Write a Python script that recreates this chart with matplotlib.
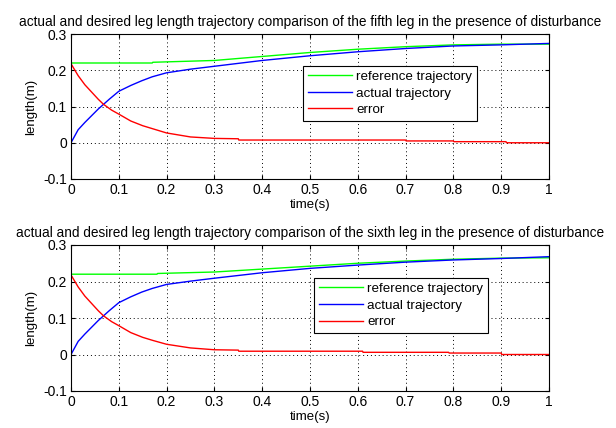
import matplotlib.pyplot as plt

plt.rcParams['font.family'] = ['Liberation Sans', 'DejaVu Sans']

# fifth leg: reference, actual and error trajectories over time (s)
t5_ref = [0, 0.17, 0.171, 0.3, 0.4, 0.5, 0.6, 0.7, 0.8, 0.9, 1.0]
ref5 = [0.22, 0.22, 0.222, 0.227, 0.238, 0.249, 0.258, 0.265, 0.270, 0.272, 0.272]
t5_act = [0, 0.015, 0.029, 0.057, 0.08, 0.1, 0.125, 0.148, 0.17, 0.2, 0.25,
          0.3, 0.4, 0.5, 0.6, 0.7, 0.8, 0.9, 1.0]
act5 = [0.0, 0.036, 0.056, 0.093, 0.120, 0.142, 0.158, 0.171, 0.182, 0.193,
        0.203, 0.211, 0.227, 0.240, 0.251, 0.260, 0.267, 0.270, 0.274]
t5_err = [0, 0.015, 0.029, 0.057, 0.068, 0.085, 0.1, 0.125, 0.15, 0.17, 0.2,
          0.25, 0.3, 0.35, 0.351, 0.7, 0.701, 0.8, 0.801, 0.91, 0.911, 1.0]
err5 = [0.218, 0.185, 0.160, 0.120, 0.106, 0.090, 0.079, 0.060, 0.047, 0.039,
        0.027, 0.016, 0.012, 0.011, 0.0075, 0.0075, 0.005, 0.005, 0.003, 0.003,
        0.0, 0.0]

# sixth leg
t6_ref = [0, 0.18, 0.181, 0.3, 0.4, 0.5, 0.6, 0.7, 0.8, 0.9, 1.0]
ref6 = [0.22, 0.22, 0.222, 0.226, 0.234, 0.242, 0.250, 0.256, 0.261, 0.264, 0.265]
t6_act = [0, 0.015, 0.029, 0.057, 0.08, 0.1, 0.125, 0.148, 0.17, 0.2, 0.25,
          0.3, 0.4, 0.5, 0.6, 0.7, 0.8, 0.9, 1.0]
act6 = [0.0, 0.036, 0.056, 0.093, 0.120, 0.142, 0.158, 0.171, 0.181, 0.192,
        0.201, 0.209, 0.224, 0.236, 0.245, 0.253, 0.259, 0.263, 0.268]
t6_err = [0, 0.015, 0.029, 0.057, 0.068, 0.085, 0.1, 0.125, 0.15, 0.17, 0.2,
          0.25, 0.3, 0.35, 0.351, 0.61, 0.611, 0.79, 0.791, 0.9, 0.901, 1.0]
err6 = [0.218, 0.185, 0.160, 0.120, 0.106, 0.090, 0.079, 0.060, 0.047, 0.039,
        0.028, 0.018, 0.013, 0.012, 0.009, 0.009, 0.006, 0.006, 0.004, 0.004,
        0.0, 0.0]

titles = ['actual and desired leg length trajectory comparison of the fifth leg in the presence of disturbance',
          'actual and desired leg length trajectory comparison of the sixth leg in the presence of disturbance']
xticks = [0, 0.1, 0.2, 0.3, 0.4, 0.5, 0.6, 0.7, 0.8, 0.9, 1]
xticklabels = ['0', '0.1', '0.2', '0.3', '0.4', '0.5', '0.6', '0.7', '0.8', '0.9', '1']
yticks = [-0.1, 0, 0.1, 0.2, 0.3]
yticklabels = ['-0.1', '0', '0.1', '0.2', '0.3']

W, H = 616, 428
fig = plt.figure(figsize=(W / 100, H / 100), dpi=100)
ax1 = fig.add_axes([71 / W, 1 - 179 / H, 478 / W, 145 / H])
ax2 = fig.add_axes([71 / W, 1 - 391 / H, 478 / W, 146 / H])

panels = [
    (ax1, t5_ref, ref5, t5_act, act5, t5_err, err5, titles[0], (0.486, 0.78)),
    (ax2, t6_ref, ref6, t6_act, act6, t6_err, err6, titles[1], (0.509, 0.774)),
]

for ax, tr, r, ta, a, te, e, title, legpos in panels:
    ax.plot(tr, r, color='#00ff00', lw=1, label='reference trajectory')
    ax.plot(ta, a, color='#0000ff', lw=1, label='actual trajectory')
    ax.plot(te, e, color='#ff0000', lw=1, label='error')
    ax.set_xlim(0, 1)
    ax.set_ylim(-0.1, 0.3)
    ax.set_xticks(xticks)
    ax.set_xticklabels(xticklabels)
    ax.set_yticks(yticks)
    ax.set_yticklabels(yticklabels)
    ax.tick_params(direction='in', labelsize=10, length=3, top=True, right=True, pad=3)
    ax.grid(True, color='black', linestyle=(0, (1, 3)), linewidth=0.7)
    for s in ax.spines.values():
        s.set_linewidth(0.8)
    ax.set_title(title, fontsize=9.8, pad=6)
    ax.set_xlabel('time(s)', fontsize=9.5, labelpad=1)
    ax.set_ylabel('length(m)', fontsize=9.5, labelpad=4)
    leg = ax.legend(loc='upper left', bbox_to_anchor=legpos, fancybox=False,
                    framealpha=1, edgecolor='black', fontsize=9.6,
                    handlelength=3.3, borderpad=0.35, labelspacing=0.32,
                    handletextpad=0.3, borderaxespad=0)
    leg.get_frame().set_linewidth(0.8)

fig.savefig('out.png', dpi=100)
